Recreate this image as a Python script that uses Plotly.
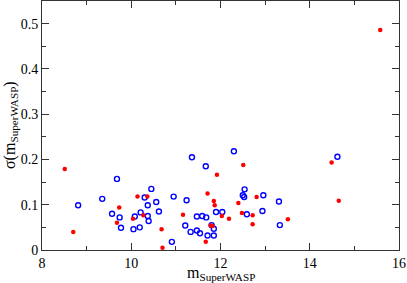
import plotly.graph_objects as go

red_x = [8.51, 8.70, 9.73, 9.68, 10.04, 10.14, 10.36, 10.27, 10.68, 10.70, 11.16, 11.71, 11.92, 11.85, 11.87,
         11.78, 11.82, 11.67, 12.03, 12.19, 12.40, 12.51, 12.48, 12.72, 12.81, 12.72, 13.51, 14.49, 14.65, 15.58]
red_y = [0.179, 0.040, 0.094, 0.060, 0.069, 0.118, 0.118, 0.077, 0.046, 0.005, 0.078, 0.125, 0.166, 0.108, 0.099,
         0.054, 0.053, 0.018, 0.075, 0.069, 0.104, 0.188, 0.082, 0.077, 0.117, 0.057, 0.068, 0.193, 0.109, 0.486]

blue_x = [8.81, 9.35, 9.68, 9.57, 9.74, 9.77, 10.05, 10.08, 10.19, 10.21, 10.30, 10.37, 10.37, 10.39, 10.45,
          10.56, 10.62, 10.91, 10.95, 11.21, 11.24, 11.33, 11.36, 11.47, 11.47, 11.54, 11.59, 11.67, 11.68, 11.71,
          11.80, 11.85, 11.85, 11.90, 12.04, 12.30, 12.54, 12.50, 12.53, 12.59, 12.96, 12.94, 13.31, 13.33, 14.62]
blue_y = [0.099, 0.113, 0.157, 0.080, 0.072, 0.049, 0.046, 0.074, 0.050, 0.083, 0.116, 0.099, 0.075, 0.064, 0.135,
          0.106, 0.085, 0.018, 0.118, 0.054, 0.110, 0.040, 0.205, 0.074, 0.043, 0.037, 0.075, 0.185, 0.072, 0.032,
          0.055, 0.047, 0.032, 0.084, 0.084, 0.218, 0.134, 0.121, 0.117, 0.079, 0.121, 0.086, 0.107, 0.055, 0.206]

x_ticks = [8, 10, 12, 14, 16]
y_ticks = [0, 0.1, 0.2, 0.3, 0.4, 0.5]
x_title = "m<sub>SuperWASP</sub>"
y_title = "σ(m<sub>SuperWASP</sub>)"

fig = go.Figure()
fig.add_trace(go.Scatter(x=blue_x, y=blue_y, mode="markers",
                         marker=dict(symbol="circle-open", size=5, color="#0000ff", line=dict(width=1.4, color="#0000ff"))))
fig.add_trace(go.Scatter(x=red_x, y=red_y, mode="markers",
                         marker=dict(symbol="circle", size=4.5, color="#ff0000", line=dict(width=0))))

font = dict(family="Liberation Serif, Times New Roman, serif", color="black")
axis_common = dict(showline=True, linecolor="#333", linewidth=1, mirror="ticks", ticks="inside",
                   ticklen=7, tickwidth=1, tickcolor="#333", showgrid=False, zeroline=False,
                   automargin=False, tickfont=dict(size=14, **font))
fig.update_xaxes(range=[8, 16], tickvals=x_ticks, ticktext=[str(v) for v in x_ticks],
                 minor=dict(ticks="inside", ticklen=4, dtick=1, tickcolor="#333", showgrid=False),
                 **axis_common)
fig.update_yaxes(range=[0, 0.55], tickvals=y_ticks, ticktext=["0", "0.1", "0.2", "0.3", "0.4", "0.5"],
                 minor=dict(ticks="inside", ticklen=4, dtick=0.05, tickcolor="#333", showgrid=False),
                 **axis_common)
fig.add_annotation(text=x_title, xref="paper", yref="paper", x=0.5, y=0, xanchor="center", yanchor="top",
                   yshift=-12, showarrow=False, font=dict(size=16, **font))
fig.add_annotation(text=y_title, xref="paper", yref="paper", x=0, y=0.5, xanchor="right", yanchor="middle",
                   xshift=-20, textangle=-90, showarrow=False, font=dict(size=16, **font))
fig.update_layout(width=407, height=283, margin=dict(l=42, r=8, t=1, b=33),
                  plot_bgcolor="white", paper_bgcolor="white", showlegend=False, font=font)
fig.write_html("out.html", config={"displayModeBar": False},
               post_script="document.body.style.margin='0';document.body.style.overflow='hidden';")
